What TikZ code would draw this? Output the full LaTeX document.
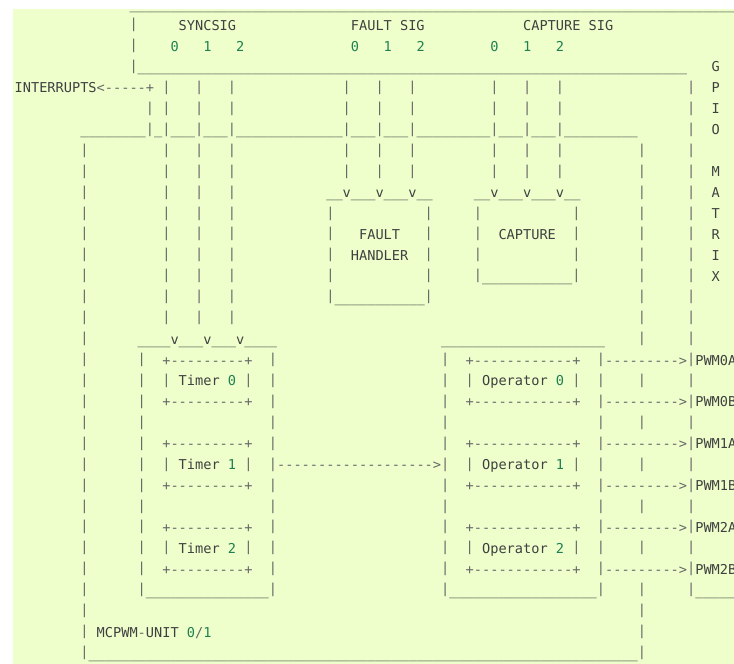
\documentclass[tikz,border=0pt]{standalone}
\usepackage{fontspec}
\setmonofont{DejaVu Sans Mono}
\definecolor{codebg}{HTML}{EEFFCC}
\definecolor{codetext}{HTML}{404040}
\definecolor{codeop}{HTML}{666666}
\definecolor{codenum}{HTML}{208050}
\begin{document}
\begin{tikzpicture}[x=8.2pt, y=-20.93pt,
    ch/.style={anchor=base west, inner sep=0pt, outer sep=0pt, text=codetext,
      font=\ttfamily\fontsize{13.62}{20.93}\selectfont},
    op/.style={ch, text=codeop},
    bar/.style={op, yshift=1.5pt},
    num/.style={ch, text=codenum}]
    % one unit = one character cell, rows go down
    \useasboundingbox (-1.793,-0.44) rectangle (87.72,31.285);
    \fill[white] (-1.793,-0.44) rectangle (87.72,31.285);
    \fill[codebg] (-0.171,-0.01) rectangle (87.72,31.285);

    % underscore runs: row/first/last column
    \foreach \y/\p/\q in {0/14/88, 3/15/81,
        6/8/15, 6/17/17, 6/19/21, 6/23/25, 6/27/39, 6/41/43, 6/45/47,
        6/49/57, 6/59/61, 6/63/65, 6/67/75,
        9/38/39, 9/41/43, 9/45/47, 9/49/50, 9/56/57, 9/59/61, 9/63/65, 9/67/68,
        13/57/67, 14/39/49,
        16/15/18, 16/20/22, 16/24/26, 16/28/31, 16/52/71,
        28/16/30, 28/53/70, 28/83/88, 31/9/75}
      \foreach \x in {\p,...,\q} \node[ch] (u\x r\y) at (\x,\y) {\_};

    % vertical bars: column/first/last row
    \foreach \x/\p/\q in {14/1/3, 16/5/6,
        18/4/15, 22/4/15, 26/4/15,
        40/4/8, 44/4/8, 48/4/8, 58/4/8, 62/4/8, 66/4/8,
        8/7/31, 82/4/28,
        76/7/16, 76/18/18, 76/20/20, 76/22/22, 76/24/24, 76/26/26, 76/28/31,
        38/10/14, 50/10/14, 56/10/13, 68/10/13,
        15/17/28, 31/17/28, 52/17/28, 71/17/28}
      \foreach \y in {\p,...,\q} \node[bar] (b\x r\y) at (\x,\y) {|};

    % header
    \node[ch] (syncsig) at (20,1) {SYNCSIG};
    \node[ch] (faultsig) at (41,1) {FAULT SIG};
    \node[ch] (capsig) at (62,1) {CAPTURE SIG};
    \foreach \x/\n in {19/0, 23/1, 27/2, 41/0, 45/1, 49/2, 58/0, 62/1, 66/2}
      \node[num] (sig\x) at (\x,2) {\n};
    \foreach \y/\l in {3/G, 4/P, 5/I, 6/O, 8/M, 9/A, 10/T, 11/R, 12/I, 13/X}
      \node[ch] (gpio\y) at (85,\y) {\l};

    % interrupt output
    \node[ch] (intr) at (0,4) {INTERRUPTS};
    \node[op] (intrtip) at (10,4) {<};
    \foreach \x in {11,...,15} \node[op] (ia\x) at (\x,4) {-};
    \node[op] (intrplus) at (16,4) {+};

    % signal inputs
    \foreach \x/\y in {40/9, 44/9, 48/9, 58/9, 62/9, 66/9, 19/16, 23/16, 27/16}
      \node[ch] (v\x r\y) at (\x,\y) {v};
    \node[ch] (fault) at (42,11) {FAULT};
    \node[ch] (handler) at (41,12) {HANDLER};
    \node[ch] (capture) at (59,11) {CAPTURE};

    % timers, operators, pwm outputs
    \foreach \k in {0,1,2} {
      \pgfmathtruncatemacro\ra{17+4*\k}
      \pgfmathtruncatemacro\rb{18+4*\k}
      \pgfmathtruncatemacro\rc{19+4*\k}
      \node[ch] (timer\k) at (20,\rb) {Timer \textcolor{codenum}{\k}};
      \node[ch] (oper\k) at (57,\rb) {Operator \textcolor{codenum}{\k}};
      \foreach \x in {18,28,55,68} \node[bar] (s\x r\rb) at (\x,\rb) {|};
      \foreach \y in {\ra,\rc} {
        \foreach \x in {18,28,55,68} \node[op] (c\x r\y) at (\x,\y) {+};
        \foreach \x in {19,...,27} \node[op] (t\x r\y) at (\x,\y) {-};
        \foreach \x in {56,...,67} \node[op] (o\x r\y) at (\x,\y) {-};
        \foreach \x in {72,...,80} \node[op] (a\x r\y) at (\x,\y) {-};
        \node[op] (tip\y) at (81,\y) {>};
      }
      \node[ch] (pwma\k) at (83,\ra) {PWM\k A};
      \node[ch] (pwmb\k) at (83,\rc) {PWM\k B};
    }
    \foreach \x in {32,...,50} \node[op] (m\x) at (\x,22) {-};
    \node[op] (mtip) at (51,22) {>};

    \node[ch] (unit) at (10,30) {MCPWM\textcolor{codeop}{-}UNIT \textcolor{codenum}{0}\textcolor{codeop}{/}\textcolor{codenum}{1}};
\end{tikzpicture}
\end{document}
